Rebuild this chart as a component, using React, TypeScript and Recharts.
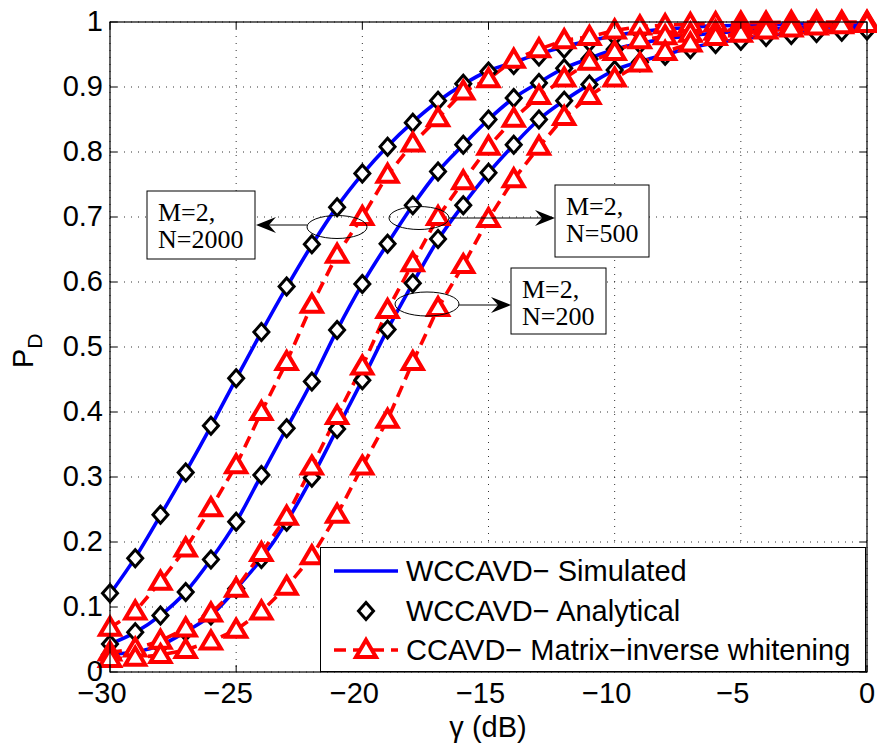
import React from "react";
import { LineChart, Line, XAxis, YAxis, CartesianGrid, Legend } from "recharts";

// gamma in dB, one point per dB
const GAMMA_DB = [
  -30, -29, -28, -27, -26, -25, -24, -23, -22, -21, -20, -19, -18, -17, -16, -15,
  -14, -13, -12, -11, -10, -9, -8, -7, -6, -5, -4, -3, -2, -1, 0,
];

// WCCAVD simulated (blue solid)
const SIM_N2000 = [0.12, 0.176, 0.241, 0.308, 0.378, 0.451, 0.523, 0.592, 0.657, 0.716, 0.766, 0.809, 0.846, 0.878, 0.904, 0.925, 0.938, 0.951, 0.962, 0.971, 0.979, 0.985, 0.989, 0.992, 0.994, 0.995, 0.996, 0.997, 0.997, 0.998, 0.998];
const SIM_N500 = [0.043, 0.061, 0.087, 0.123, 0.173, 0.231, 0.303, 0.375, 0.447, 0.526, 0.597, 0.659, 0.718, 0.77, 0.811, 0.85, 0.883, 0.907, 0.929, 0.944, 0.958, 0.967, 0.974, 0.979, 0.983, 0.986, 0.989, 0.991, 0.992, 0.993, 0.994];
const SIM_N200 = [0.027, 0.031, 0.041, 0.062, 0.087, 0.128, 0.174, 0.231, 0.299, 0.374, 0.449, 0.527, 0.598, 0.665, 0.719, 0.768, 0.811, 0.85, 0.879, 0.904, 0.926, 0.939, 0.95, 0.96, 0.968, 0.974, 0.979, 0.983, 0.986, 0.988, 0.99];

// WCCAVD analytical (black diamonds)
const ANA_N2000 = [0.121, 0.175, 0.242, 0.307, 0.379, 0.452, 0.523, 0.593, 0.658, 0.715, 0.767, 0.808, 0.845, 0.879, 0.905, 0.924, 0.934, 0.947, 0.959, 0.969, 0.978, 0.984, 0.988, 0.991, 0.993, 0.994, 0.995, 0.996, 0.996, 0.997, 0.997];
const ANA_N500 = [0.043, 0.061, 0.087, 0.123, 0.173, 0.231, 0.303, 0.375, 0.447, 0.526, 0.597, 0.659, 0.718, 0.77, 0.811, 0.85, 0.883, 0.906, 0.929, 0.943, 0.958, 0.966, 0.973, 0.978, 0.982, 0.985, 0.988, 0.99, 0.991, 0.992, 0.993];
const ANA_N200 = [0.027, 0.03, 0.04, 0.062, 0.087, 0.128, 0.174, 0.231, 0.299, 0.374, 0.449, 0.527, 0.598, 0.666, 0.718, 0.768, 0.811, 0.85, 0.879, 0.904, 0.926, 0.938, 0.948, 0.958, 0.966, 0.971, 0.977, 0.98, 0.983, 0.985, 0.987];

// CCAVD matrix-inverse whitening (red dashed triangles)
const CC_N2000 = [0.068, 0.093, 0.139, 0.19, 0.252, 0.318, 0.4, 0.477, 0.565, 0.642, 0.7, 0.765, 0.813, 0.852, 0.893, 0.912, 0.942, 0.958, 0.972, 0.977, 0.987, 0.993, 0.995, 0.997, 0.998, 0.999, 0.999, 1.0, 1.0, 1.0, 1.0];
const CC_N500 = [0.03, 0.036, 0.048, 0.067, 0.09, 0.128, 0.183, 0.239, 0.316, 0.394, 0.47, 0.557, 0.629, 0.7, 0.755, 0.808, 0.851, 0.886, 0.913, 0.939, 0.954, 0.972, 0.978, 0.982, 0.985, 0.99, 0.993, 0.995, 0.997, 0.998, 0.999];
const CC_N200 = [0.02, 0.022, 0.026, 0.034, 0.047, 0.065, 0.093, 0.131, 0.178, 0.242, 0.316, 0.388, 0.477, 0.56, 0.626, 0.697, 0.758, 0.808, 0.854, 0.886, 0.913, 0.936, 0.954, 0.967, 0.977, 0.982, 0.987, 0.99, 0.993, 0.995, 0.997];

const X_TICKS = [-30, -25, -20, -15, -10, -5, 0];
const Y_TICKS = [0, 0.1, 0.2, 0.3, 0.4, 0.5, 0.6, 0.7, 0.8, 0.9, 1];

const LEGEND_LABELS = [
  "WCCAVD\u2212 Simulated",
  "WCCAVD\u2212 Analytical",
  "CCAVD\u2212 Matrix\u2212inverse whitening",
];

const data = GAMMA_DB.map((g, i) => ({
  g,
  sim2000: SIM_N2000[i],
  sim500: SIM_N500[i],
  sim200: SIM_N200[i],
  ana2000: ANA_N2000[i],
  ana500: ANA_N500[i],
  ana200: ANA_N200[i],
  cc2000: CC_N2000[i],
  cc500: CC_N500[i],
  cc200: CC_N200[i],
}));

const W = 877;
const H = 745;
const L = 110;
const T = 22;
const R = 867;
const B = 672;
const FONT = "'Liberation Sans', Arial, Helvetica, sans-serif";
const SERIF = "'Liberation Serif', 'Times New Roman', serif";
const BLUE = "#0000ff";
const RED = "#ff0000";
const LW = 3.6;

const XTick = (p: any) => {
  const x = p.x;
  const v = p.payload.value;
  // digits sit centred on the tick, the minus hangs to the left
  return (
    <g>
      <line x1={x} y1={B} x2={x} y2={B - 7} stroke="#000" />
      <line x1={x} y1={T} x2={x} y2={T + 7} stroke="#000" />
      <text x={x} dx={v < 0 ? -8 : 0} y={703} textAnchor="middle" fontSize={29} fontFamily={FONT} fill="#000">
        {v < 0 ? "\u2212" + Math.abs(v) : String(v)}
      </text>
    </g>
  );
};

const YTick = (p: any) => {
  const y = p.y;
  return (
    <g>
      <line x1={L} y1={y} x2={L + 7} y2={y} stroke="#000" />
      <line x1={R} y1={y} x2={R - 7} y2={y} stroke="#000" />
      <text x={103} y={y + 9} textAnchor="end" fontSize={29} fontFamily={FONT} fill="#000">
        {String(Math.round(p.payload.value * 10) / 10)}
      </text>
    </g>
  );
};

const diamond = (p: any) => {
  const { cx, cy, index } = p;
  if (cx == null || cy == null) return <g key={index} />;
  const d = `M${cx},${cy - 8.5} L${cx + 7.5},${cy} L${cx},${cy + 8.5} L${cx - 7.5},${cy} Z`;
  return <path key={index} d={d} fill="#fff" stroke="#000" strokeWidth={3} strokeDasharray="none" />;
};

const triangle = (p: any) => {
  const { cx, cy, index } = p;
  if (cx == null || cy == null) return <g key={index} />;
  const d = `M${cx},${cy - 10} L${cx + 10},${cy + 7} L${cx - 10},${cy + 7} Z`;
  return <path key={index} d={d} fill="#fff" stroke={RED} strokeWidth={4} strokeDasharray="none" strokeLinejoin="miter" />;
};

const LegendBox = () => (
  <div
    style={{
      width: 546,
      height: 125,
      boxSizing: "border-box",
      background: "#fff",
      border: "1.5px solid #000",
      position: "relative",
    }}
  >
    <svg width={546} height={125} style={{ position: "absolute", left: 0, top: 0 }}>
      <line x1={13} y1={23} x2={77} y2={23} stroke={BLUE} strokeWidth={LW} />
      <path d="M45,54.5 L52.5,63 L45,71.5 L37.5,63 Z" fill="#fff" stroke="#000" strokeWidth={3} />
      <line x1={13} y1={102} x2={77} y2={102} stroke={RED} strokeWidth={LW} strokeDasharray="12 7" />
      <path d="M45,92 L55,109 L35,109 Z" fill="#fff" stroke={RED} strokeWidth={4} />
      {LEGEND_LABELS.map((t, i) => (
        <text key={t} x={85} y={[33, 73, 112][i]} fontSize={29} fontFamily={FONT} fill="#000">
          {t}
        </text>
      ))}
    </svg>
  </div>
);

const Arrow = ({ x1, x2, y }: { x1: number; x2: number; y: number }) => {
  const dir = x2 > x1 ? 1 : -1;
  const head = `M${x2},${y} L${x2 - dir * 20},${y - 8} L${x2 - dir * 13},${y} L${x2 - dir * 20},${y + 8} Z`;
  return (
    <g>
      <line x1={x1} y1={y} x2={x2 - dir * 13} y2={y} stroke="#000" strokeWidth={1} />
      <path d={head} fill="#000" />
    </g>
  );
};

const Note = ({ x, y, w, h, n }: { x: number; y: number; w: number; h: number; n: string }) => (
  <g>
    <rect x={x} y={y} width={w} height={h} fill="#fff" stroke="#000" strokeWidth={1} />
    <text x={x + 11} y={y + 30} fontSize={26} fontFamily={SERIF} fill="#000">
      M=2,
    </text>
    <text x={x + 11} y={y + 57} fontSize={26} fontFamily={SERIF} fill="#000">
      N={n}
    </text>
  </g>
);

export default function App() {
  return (
    <div style={{ position: "absolute", left: 0, top: 0, width: W, height: H, background: "#fff" }}>
      <LineChart width={W} height={H} data={data} margin={{ top: T, right: W - R, left: 10, bottom: 0 }}>
        <CartesianGrid stroke="#333" strokeDasharray="1 6" strokeWidth={1} />
        <XAxis
          dataKey="g"
          type="number"
          domain={[-30, 0]}
          ticks={X_TICKS}
          height={H - B}
          axisLine={false}
          tickLine={false}
          tick={XTick}
          interval={0}
        />
        <YAxis
          type="number"
          domain={[0, 1]}
          ticks={Y_TICKS}
          width={L - 10}
          axisLine={false}
          tickLine={false}
          tick={YTick}
          interval={0}
        />
        {["sim2000", "sim500", "sim200"].map((k) => (
          <Line key={k} dataKey={k} type="monotone" stroke={BLUE} strokeWidth={LW} dot={false} isAnimationActive={false} />
        ))}
        {["ana2000", "ana500", "ana200"].map((k) => (
          <Line key={k} dataKey={k} type="monotone" stroke="none" strokeWidth={0} dot={diamond} isAnimationActive={false} />
        ))}
        {["cc2000", "cc500", "cc200"].map((k) => (
          <Line
            key={k}
            dataKey={k}
            type="linear"
            stroke={RED}
            strokeWidth={LW}
            strokeDasharray="12 7"
            dot={triangle}
            isAnimationActive={false}
          />
        ))}
        <Legend
          layout="vertical"
          align="center"
          verticalAlign="middle"
          content={LegendBox}
          wrapperStyle={{ position: "absolute", left: 320, top: 547, width: 546, height: 125 }}
        />
      </LineChart>
      <svg width={W} height={H} style={{ position: "absolute", left: 0, top: 0, pointerEvents: "none" }}>
        <rect x={L} y={T} width={R - L} height={B - T} fill="none" stroke="#000" strokeWidth={1.2} />
        <ellipse cx={337} cy={227} rx={30} ry={11.5} fill="none" stroke="#000" strokeWidth={1} />
        <ellipse cx={419} cy={218} rx={30} ry={11.5} fill="none" stroke="#000" strokeWidth={1} />
        <ellipse cx={427} cy={304} rx={32} ry={12} fill="none" stroke="#000" strokeWidth={1} />
        <Arrow x1={307} x2={256} y={225} />
        <Arrow x1={449} x2={555} y={218} />
        <Arrow x1={459} x2={511} y={305} />
        <Note x={147} y={191} w={108} h={68} n="2000" />
        <Note x={555} y={185} w={94} h={72} n="500" />
        <Note x={511} y={268} w={95} h={66} n="200" />
        <text x={488} y={737} textAnchor="middle" fontSize={29} fontFamily={FONT} fill="#000">
          γ (dB)
        </text>
        <text transform="translate(33,368) rotate(-90)" fontSize={29} fontFamily={FONT} fill="#000">
          P
          <tspan dy={9} fontSize={21}>
            D
          </tspan>
        </text>
      </svg>
    </div>
  );
}
